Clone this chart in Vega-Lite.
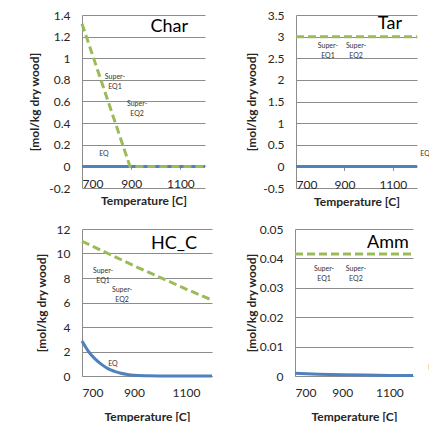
{
  "$schema": "https://vega.github.io/schema/vega-lite/v6.json",
  "padding": {"left": 28, "top": 9, "right": 0, "bottom": 0},
  "background": "white",
  "config": {
    "font": "Lato",
    "view": {"stroke": null},
    "axis": {"labelFont": "Lato", "labelFontSize": 12, "labelColor": "#262626", "titleFont": "Lato", "titleFontSize": 12, "titleFontWeight": "bold", "titleColor": "#262626", "gridColor": "#8C8C8C", "domainColor": "#8C8C8C", "tickColor": "#8C8C8C"},
    "axisY": {"ticks": false, "labelPadding": 12, "grid": true, "domain": true, "titleAngle": -90, "titleBaseline": "middle", "titleAlign": "center"},
    "axisX": {"grid": false, "tickSize": 4, "format": "d"}
  },
  "spacing": 15,
  "vconcat": [
    {
      "bounds": "flush",
      "spacing": 91,
      "hconcat": [
        {
          "width": 123, "height": 173,
          "data": {"values": [
            {"series": "EQ", "T": 700, "v": 0}, {"series": "EQ", "T": 1200, "v": 0},
            {"series": "Super", "T": 700, "v": 1.32}, {"series": "Super", "T": 895, "v": 0}, {"series": "Super", "T": 1200, "v": 0}
          ]},
          "encoding": {
            "x": {"field": "T", "type": "quantitative", "scale": {"domain": [700, 1200], "nice": false, "zero": false},
              "axis": {"values": [700, 900, 1100], "title": "Temperature [C]", "offset": -22.7, "labelPadding": 9, "titlePadding": 6}},
            "y": {"field": "v", "type": "quantitative", "scale": {"domain": [-0.2, 1.4], "nice": false, "zero": false},
              "axis": {"values": [-0.2, 0, 0.2, 0.4, 0.6, 0.8, 1, 1.2, 1.4], "title": "[mol/kg dry wood]", "titleX": -48, "titleY": 86.5, "labelExpr": "replace(format(datum.value, '~g'), '\u2212', '-')"}}
          },
          "layer": [
            {"transform": [{"filter": "datum.series === 'EQ'"}], "mark": {"type": "line", "color": "#4F81BD", "strokeWidth": 3}},
            {"transform": [{"filter": "datum.series === 'Super'"}], "mark": {"type": "line", "color": "#9BBB59", "strokeWidth": 3, "strokeDash": [8, 4]}},
            {"data": {"values": [
              {"T": 834, "v": 0.823, "label": "Super-\nEQ1"},
              {"T": 924, "v": 0.58, "label": "Super-\nEQ2"},
              {"T": 789, "v": 0.11, "label": "EQ"}
            ]},
              "mark": {"type": "text", "fontSize": 7, "color": "#333333", "lineBreak": "\n", "baseline": "middle", "align": "center", "lineHeight": 10},
              "encoding": {"text": {"field": "label"}}},
            {"data": {"values": [
              {"T": 1055, "v": 1.29, "label": "Char"}
            ]},
              "mark": {"type": "text", "fontSize": 18, "color": "#000000", "baseline": "middle", "align": "center"},
              "encoding": {"text": {"field": "label"}}}
          ]
        },
        {
          "width": 121, "height": 173,
          "data": {"values": [
            {"series": "EQ", "T": 700, "v": 0}, {"series": "EQ", "T": 1200, "v": 0},
            {"series": "Super", "T": 700, "v": 3.0}, {"series": "Super", "T": 1200, "v": 3.0}
          ]},
          "encoding": {
            "x": {"field": "T", "type": "quantitative", "scale": {"domain": [700, 1200], "nice": false, "zero": false},
              "axis": {"values": [700, 900, 1100], "title": "Temperature [C]", "offset": -21.6, "labelPadding": 9, "titlePadding": 6}},
            "y": {"field": "v", "type": "quantitative", "scale": {"domain": [-0.5, 3.5], "nice": false, "zero": false},
              "axis": {"values": [-0.5, 0, 0.5, 1, 1.5, 2, 2.5, 3, 3.5], "title": "[mol/kg dry wood]", "titleX": -45, "titleY": 86.5, "labelExpr": "replace(format(datum.value, '~g'), '\u2212', '-')"}}
          },
          "layer": [
            {"transform": [{"filter": "datum.series === 'EQ'"}], "mark": {"type": "line", "color": "#4F81BD", "strokeWidth": 3}},
            {"transform": [{"filter": "datum.series === 'Super'"}], "mark": {"type": "line", "color": "#9BBB59", "strokeWidth": 3, "strokeDash": [8, 4]}},
            {"data": {"values": [
              {"T": 832, "v": 2.78, "label": "Super-\nEQ1"},
              {"T": 948, "v": 2.78, "label": "Super-\nEQ2"},
              {"T": 1233, "v": 0.28, "label": "EQ"}
            ]},
              "mark": {"type": "text", "fontSize": 7, "color": "#333333", "lineBreak": "\n", "baseline": "middle", "align": "center", "lineHeight": 10},
              "encoding": {"text": {"field": "label"}}},
            {"data": {"values": [
              {"T": 1088, "v": 3.285, "label": "Tar"}
            ]},
              "mark": {"type": "text", "fontSize": 18, "color": "#000000", "baseline": "middle", "align": "center"},
              "encoding": {"text": {"field": "label"}}}
          ]
        }
      ]
    },
    {
      "bounds": "flush",
      "spacing": 83,
      "hconcat": [
        {
          "width": 130, "height": 147,
          "data": {"values": [
            {"series": "EQ", "T": 700, "v": 2.85}, {"series": "EQ", "T": 725, "v": 2.0}, {"series": "EQ", "T": 750, "v": 1.4},
            {"series": "EQ", "T": 775, "v": 0.95}, {"series": "EQ", "T": 800, "v": 0.6}, {"series": "EQ", "T": 825, "v": 0.38},
            {"series": "EQ", "T": 850, "v": 0.22}, {"series": "EQ", "T": 875, "v": 0.12}, {"series": "EQ", "T": 900, "v": 0.06},
            {"series": "EQ", "T": 950, "v": 0.02}, {"series": "EQ", "T": 1000, "v": 0.005}, {"series": "EQ", "T": 1100, "v": 0.0},
            {"series": "EQ", "T": 1200, "v": 0.0},
            {"series": "Super", "T": 700, "v": 11.0}, {"series": "Super", "T": 800, "v": 10.0}, {"series": "Super", "T": 900, "v": 9.0},
            {"series": "Super", "T": 1000, "v": 8.05}, {"series": "Super", "T": 1100, "v": 7.1}, {"series": "Super", "T": 1200, "v": 6.2}
          ]},
          "encoding": {
            "x": {"field": "T", "type": "quantitative", "scale": {"domain": [700, 1200], "nice": false, "zero": false},
              "axis": {"values": [700, 900, 1100], "title": "Temperature [C]", "ticks": false, "labelPadding": 11, "titlePadding": 13}},
            "y": {"field": "v", "type": "quantitative", "scale": {"domain": [0, 12], "nice": false},
              "axis": {"values": [0, 2, 4, 6, 8, 10, 12], "title": "[mol/kg dry wood]", "titleX": -41, "titleY": 73.5}}
          },
          "layer": [
            {"transform": [{"filter": "datum.series === 'EQ'"}], "mark": {"type": "line", "color": "#4F81BD", "strokeWidth": 3, "interpolate": "monotone"}},
            {"transform": [{"filter": "datum.series === 'Super'"}], "mark": {"type": "line", "color": "#9BBB59", "strokeWidth": 3, "strokeDash": [8, 4]}},
            {"data": {"values": [
              {"T": 781, "v": 8.6, "label": "Super-\nEQ1"},
              {"T": 854, "v": 7.05, "label": "Super-\nEQ2"},
              {"T": 819, "v": 0.97, "label": "EQ"}
            ]},
              "mark": {"type": "text", "fontSize": 7, "color": "#333333", "lineBreak": "\n", "baseline": "middle", "align": "center", "lineHeight": 10},
              "encoding": {"text": {"field": "label"}}},
            {"data": {"values": [
              {"T": 1054, "v": 10.78, "label": "HC_C"}
            ]},
              "mark": {"type": "text", "fontSize": 18, "color": "#000000", "baseline": "middle", "align": "center"},
              "encoding": {"text": {"field": "label"}}}
          ]
        },
        {
          "width": 118, "height": 147,
          "data": {"values": [
            {"series": "EQ", "T": 700, "v": 0.0009}, {"series": "EQ", "T": 800, "v": 0.0006}, {"series": "EQ", "T": 900, "v": 0.0004},
            {"series": "EQ", "T": 1000, "v": 0.0003}, {"series": "EQ", "T": 1100, "v": 0.0002}, {"series": "EQ", "T": 1200, "v": 0.0002},
            {"series": "Super", "T": 700, "v": 0.0415}, {"series": "Super", "T": 1200, "v": 0.0415}
          ]},
          "encoding": {
            "x": {"field": "T", "type": "quantitative", "scale": {"domain": [700, 1200], "nice": false, "zero": false},
              "axis": {"values": [700, 900, 1100], "title": "Temperature [C]", "ticks": false, "labelPadding": 11, "titlePadding": 13}},
            "y": {"field": "v", "type": "quantitative", "scale": {"domain": [0, 0.05], "nice": false},
              "axis": {"values": [0, 0.01, 0.02, 0.03, 0.04, 0.05], "title": "[mol/kg dry wood]", "titleX": -44, "titleY": 73.5, "labelExpr": "format(datum.value, '~g')"}}
          },
          "layer": [
            {"transform": [{"filter": "datum.series === 'EQ'"}], "mark": {"type": "line", "color": "#4F81BD", "strokeWidth": 3}},
            {"transform": [{"filter": "datum.series === 'Super'"}], "mark": {"type": "line", "color": "#9BBB59", "strokeWidth": 3, "strokeDash": [8, 4]}},
            {"data": {"values": [
              {"T": 823, "v": 0.0363, "label": "Super-\nEQ1"},
              {"T": 958, "v": 0.0363, "label": "Super-\nEQ2"},
              {"T": 1285, "v": 0.0027, "label": "EQ"}
            ]},
              "mark": {"type": "text", "fontSize": 7, "color": "#333333", "lineBreak": "\n", "baseline": "middle", "align": "center", "lineHeight": 10},
              "encoding": {"text": {"field": "label"}}},
            {"data": {"values": [
              {"T": 1094, "v": 0.0452, "label": "Amm"}
            ]},
              "mark": {"type": "text", "fontSize": 18, "color": "#000000", "baseline": "middle", "align": "center"},
              "encoding": {"text": {"field": "label"}}}
          ]
        }
      ]
    }
  ]
}
